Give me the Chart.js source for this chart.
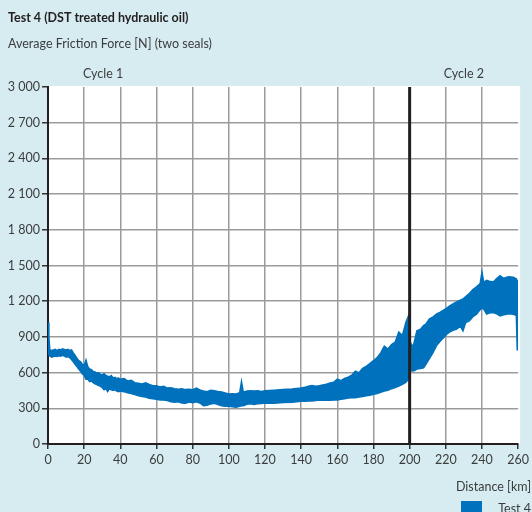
<!DOCTYPE html>
<html>
<head>
<meta charset="utf-8">
<script src="https://cdn.jsdelivr.net/npm/chart.js@4/dist/chart.umd.min.js"></script>
<style>
  html, body { margin: 0; padding: 0; background: #d6ecf1; }
  #wrap { width: 532px; height: 512px; }
</style>
</head>
<body>
<div id="wrap"><canvas id="c" width="532" height="512"></canvas></div>
<script>
// Distance travelled [km] and the envelope of the measured friction force [N]
const distanceKm = [
  0, 0.5, 1, 2, 3, 4, 5, 6, 7, 8, 9, 10, 11, 12, 13, 14, 15, 16, 17, 18, 19, 20,
  21, 22, 23, 24, 25, 26, 27, 28, 29, 30, 31, 32, 33, 34, 35, 36, 37, 38, 39, 40,
  42, 44, 46, 48, 50, 52, 54, 56, 58, 60, 62, 64, 66, 68, 70, 72, 74, 76, 78, 80,
  82, 84, 86, 88, 90, 92, 94, 96, 98, 100, 102, 104, 106, 107, 108, 110, 112, 114,
  116, 118, 120, 125, 130, 135, 140, 142, 144, 146, 148, 150, 152, 154, 156, 158,
  160, 162, 164, 166, 168, 170, 172, 174, 176, 178, 180, 182, 184, 186, 188, 190,
  192, 194, 196, 198, 199.6,
  200.4, 201, 202, 203, 204, 206, 207.7, 209, 211, 213, 215, 217, 219, 220.5, 222,
  224, 226, 228, 229.5, 231, 233, 235, 237, 239, 240, 241, 242.6, 244, 246.3, 248,
  250, 252, 253.6, 255, 257.3, 259, 259.5, 260
];
const upperN = [
  1020, 900, 790, 785, 790, 795, 785, 795, 790, 800, 795, 790, 795, 785, 790, 765, 745, 720, 700, 690, 670, 660,
  705, 650, 630, 625, 610, 605, 595, 600, 585, 580, 590, 575, 570, 565, 575, 555, 560, 550, 555, 545,
  550, 530, 535, 515, 510, 505, 515, 500, 490, 490, 480, 485, 470, 472, 465, 460, 465, 457, 460, 455,
  470, 455, 445, 440, 452, 448, 442, 438, 428, 420, 422, 420, 430, 525, 436, 445, 447, 445,
  447, 442, 448, 452, 457, 462, 470, 476, 486, 492, 485, 490, 496, 502, 512, 518,
  545, 532, 552, 562, 578, 612, 598, 636, 652, 676, 700, 726, 766, 822, 798, 836,
  856, 940, 912, 1025, 1085,
  855, 835, 825, 885, 952, 965, 995, 1008, 1052, 1068, 1094, 1108, 1128, 1142, 1158,
  1178, 1194, 1208, 1218, 1238, 1264, 1298, 1320, 1348, 1444, 1358, 1376, 1368, 1362, 1388,
  1414, 1392, 1402, 1406, 1402, 1388, 1372, 1365
];
const lowerN = [
  790, 750, 740, 730, 735, 740, 735, 742, 738, 745, 740, 730, 735, 725, 710, 690, 670, 650, 630, 610, 590, 575,
  545, 545, 525, 530, 515, 505, 500, 490, 485, 475, 455, 465, 440, 465, 455, 450, 455, 445, 440, 445,
  440, 430, 425, 415, 405, 400, 395, 385, 380, 375, 370, 370, 365, 355, 350, 355, 345, 342, 353, 347,
  355, 345, 322, 325, 337, 342, 332, 322, 318, 317, 313, 308, 316, 322, 322, 334, 338, 333,
  338, 340, 345, 343, 348, 350, 360, 360, 362, 361, 365, 369, 367, 368, 368, 370,
  369, 375, 380, 386, 388, 389, 395, 400, 405, 410, 417, 425, 435, 445, 452, 465,
  475, 487, 501, 520, 550,
  640, 615, 614, 620, 630, 635, 641, 670, 720, 770, 830, 865, 898, 922, 940,
  955, 965, 990, 950, 1020, 1035, 1070, 1091, 1130, 1140, 1134, 1091, 1100, 1105, 1095,
  1077, 1085, 1091, 1095, 1091, 1080, 792, 792
];
const yTicks = [0, 300, 600, 900, 1200, 1500, 1800, 2100, 2400, 2700, 3000];
const xTicks = [0, 20, 40, 60, 80, 100, 120, 140, 160, 180, 200, 220, 240, 260];
const cycleLabels = [{ text: 'Cycle 1', km: 30.5 }, { text: 'Cycle 2', km: 230 }];
const cycleBoundaryKm = 200;

const FONT = 'Lato, "Open Sans", sans-serif';
const BLUE = '#0071bc';
const BG = '#d6ecf1';

const toPoints = vals => distanceKm.map((x, i) => ({ x, y: vals[i] }));
const fmt = v => String(v).replace(/\B(?=(\d{3})+(?!\d))/g, ' ');

const decorations = {
  id: 'decorations',
  beforeDraw(chart) {
    const { ctx, chartArea: a } = chart;
    ctx.save();
    ctx.fillStyle = BG;
    ctx.fillRect(0, 0, chart.width, chart.height);
    ctx.fillStyle = '#ffffff';
    ctx.fillRect(a.left, a.top - 1, a.right - a.left + 2, a.bottom - a.top + 1);
    ctx.restore();
  },
  afterDatasetsDraw(chart) {
    const { ctx, chartArea: a, scales: { x } } = chart;
    ctx.save();
    // boundary between the two cycles
    const bx = x.getPixelForValue(cycleBoundaryKm);
    ctx.strokeStyle = '#231f20';
    ctx.lineWidth = 3;
    ctx.beginPath();
    ctx.moveTo(bx, a.top);
    ctx.lineTo(bx, a.bottom);
    ctx.stroke();

    ctx.font = '12.5px ' + FONT;
    ctx.fillStyle = '#3c3c3c';
    ctx.textBaseline = 'middle';
    ctx.textAlign = 'center';
    cycleLabels.forEach(c => ctx.fillText(c.text, x.getPixelForValue(c.km), a.top - 13));

    // axis title and legend in the bottom right corner
    ctx.textAlign = 'right';
    ctx.fillText('Distance [km]', chart.width - 1, 487);
    const ds = chart.data.datasets[0];
    ctx.fillStyle = ds.backgroundColor;
    ctx.fillRect(461, 501, 21, 14);
    ctx.fillStyle = '#3c3c3c';
    ctx.fillText(ds.label, chart.width - 1, 509);
    ctx.restore();
  }
};

new Chart(document.getElementById('c'), {
  type: 'line',
  data: {
    datasets: [
      { label: 'Test 4', data: toPoints(upperN), borderColor: BLUE, backgroundColor: BLUE,
        borderWidth: 1.5, pointRadius: 0, tension: 0, fill: '+1' },
      { label: 'Test 4 lower', data: toPoints(lowerN), borderColor: BLUE, backgroundColor: BLUE,
        borderWidth: 1.5, pointRadius: 0, tension: 0, fill: false }
    ]
  },
  options: {
    responsive: false,
    animation: false,
    devicePixelRatio: 1,
    layout: { padding: { left: 8, right: 12, top: 0, bottom: 0 } },
    plugins: {
      legend: { display: false },
      tooltip: { enabled: false },
      title: {
        display: true, align: 'start', text: 'Test 4 (DST treated hydraulic oil)',
        color: '#231f20', font: { family: FONT, size: 12.5, weight: 'bold' },
        padding: { top: 10, bottom: 11 }
      },
      subtitle: {
        display: true, align: 'start', text: 'Average Friction Force [N] (two seals)',
        color: '#3c3c3c', font: { family: FONT, size: 12.5 },
        padding: { top: 0, bottom: 36 }
      }
    },
    scales: {
      x: {
        type: 'linear', min: 0, max: 260,
        afterBuildTicks: s => { s.ticks = xTicks.map(v => ({ value: v })); },
        afterFit: s => { s.height = 68; },
        ticks: { color: '#3c3c3c', font: { family: FONT, size: 12.5 }, padding: 3, maxRotation: 0, autoSkip: false },
        grid: {
          color: c => (c.tick && c.tick.value === 260) ? 'rgba(0,0,0,0)' : '#9b9b9b',
          lineWidth: 1.5, tickLength: 5, tickColor: '#333', tickWidth: 1.5
        },
        border: { display: true, color: '#231f20', width: 2 }
      },
      y: {
        min: 0, max: 3000,
        afterBuildTicks: s => { s.ticks = yTicks.map(v => ({ value: v })); },
        afterFit: s => { s.width = 40; },
        ticks: { color: '#3c3c3c', font: { family: FONT, size: 12.5 }, padding: 2, callback: v => fmt(v) },
        grid: {
          color: c => (c.tick && c.tick.value === 3000) ? 'rgba(0,0,0,0)' : '#9b9b9b',
          lineWidth: 1.5, tickLength: 6, tickColor: '#333', tickWidth: 1.5
        },
        border: { display: true, color: '#231f20', width: 2 }
      }
    }
  },
  plugins: [decorations]
});
</script>
</body>
</html>
